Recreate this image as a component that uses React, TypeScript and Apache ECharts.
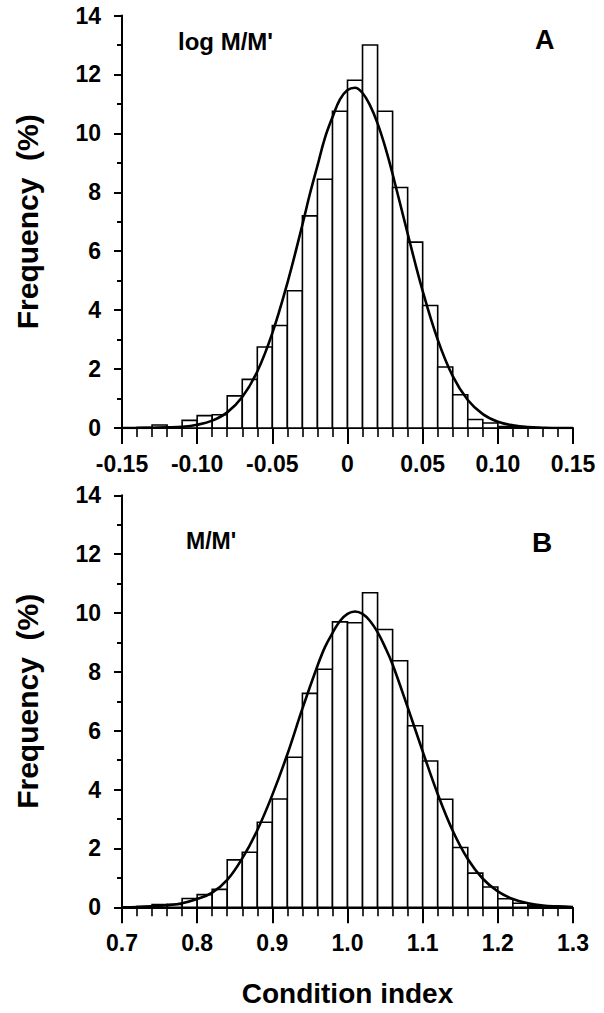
import React, { useEffect, useRef } from "react";
import * as echarts from "echarts";

// ---------- data ----------
const yTickLabels = ["0", "2", "4", "6", "8", "10", "12", "14"];
const xTickLabelsA = ["-0.15", "-0.10", "-0.05", "0", "0.05", "0.10", "0.15"];
const xTickLabelsB = ["0.7", "0.8", "0.9", "1.0", "1.1", "1.2", "1.3"];

// Panel A: log M/M'  (histogram bins, left edges, width 0.01)
const binWidthA = 0.01;
const binLeftA = [-0.14, -0.13, -0.12, -0.11, -0.10, -0.09, -0.08, -0.07, -0.06, -0.05, -0.04, -0.03, -0.02, -0.01, 0.0, 0.01, 0.02, 0.03, 0.04, 0.05, 0.06, 0.07, 0.08, 0.09, 0.10];
const freqA = [0.02, 0.10, 0.03, 0.26, 0.42, 0.45, 1.09, 1.65, 2.75, 3.48, 4.66, 7.2, 8.44, 10.75, 11.8, 13.0, 10.75, 8.16, 6.31, 4.16, 2.07, 1.13, 0.29, 0.17, 0.05];
// fitted curve
const curveXA = [-0.15, -0.14, -0.13, -0.12, -0.11, -0.10, -0.09, -0.08, -0.07, -0.06, -0.05, -0.04, -0.03, -0.025, -0.02, -0.015, -0.01, -0.005, 0.0, 0.005, 0.01, 0.015, 0.02, 0.025, 0.03, 0.04, 0.05, 0.06, 0.07, 0.08, 0.09, 0.10, 0.11, 0.12, 0.13, 0.14, 0.15];
const curveYA = [0.0, 0.0, 0.01, 0.02, 0.04, 0.11, 0.25, 0.53, 1.05, 1.92, 3.22, 4.92, 6.9, 7.95, 8.9, 9.85, 10.55, 11.15, 11.47, 11.55, 11.37, 10.95, 10.34, 9.55, 8.62, 6.6, 4.65, 3.0, 1.76, 0.95, 0.47, 0.21, 0.09, 0.03, 0.01, 0.0, 0.0];

// Panel B: M/M'  (histogram bins, left edges, width 0.02)
const binWidthB = 0.02;
const binLeftB = [0.72, 0.74, 0.76, 0.78, 0.80, 0.82, 0.84, 0.86, 0.88, 0.90, 0.92, 0.94, 0.96, 0.98, 1.00, 1.02, 1.04, 1.06, 1.08, 1.10, 1.12, 1.14, 1.16, 1.18, 1.20, 1.22, 1.24];
const freqB = [0.03, 0.09, 0.10, 0.30, 0.43, 0.61, 1.61, 1.87, 2.89, 3.68, 5.10, 7.27, 8.09, 9.70, 9.67, 10.69, 9.44, 8.38, 6.17, 4.97, 3.67, 2.03, 1.16, 0.69, 0.29, 0.14, 0.05];
const curveXB = [0.70, 0.72, 0.74, 0.76, 0.78, 0.80, 0.82, 0.84, 0.86, 0.88, 0.90, 0.92, 0.94, 0.96, 0.97, 0.98, 0.99, 1.00, 1.01, 1.02, 1.03, 1.04, 1.05, 1.06, 1.08, 1.10, 1.12, 1.14, 1.16, 1.18, 1.20, 1.22, 1.24, 1.26, 1.28, 1.30];
const curveYB = [0.0, 0.01, 0.03, 0.07, 0.14, 0.28, 0.5, 0.93, 1.66, 2.62, 3.82, 5.2, 6.75, 8.2, 8.84, 9.32, 9.73, 9.97, 10.05, 9.97, 9.73, 9.35, 8.84, 8.25, 6.8, 5.3, 3.85, 2.6, 1.64, 0.97, 0.54, 0.28, 0.14, 0.06, 0.03, 0.01];

const FONT = "'Liberation Sans', Arial, Helvetica, sans-serif";

function xAxisDef(grid: number, min: number, max: number, interval: number, labels: string[], name?: string) {
  return {
    type: "value",
    gridIndex: grid,
    min,
    max,
    interval,
    name: name || "",
    nameLocation: "middle",
    nameGap: 72,
    nameTextStyle: { fontFamily: FONT, fontWeight: "bold", fontSize: 28, color: "#000" },
    axisLine: { show: true, onZero: false, lineStyle: { color: "#000", width: 2 } },
    axisTick: { show: true, length: 16, lineStyle: { color: "#000", width: 2 } },
    minorTick: { show: true, splitNumber: 5, length: 9, lineStyle: { color: "#000", width: 1.6 } },
    splitLine: { show: false },
    minorSplitLine: { show: false },
    axisLabel: {
      fontFamily: FONT,
      fontWeight: "bold",
      fontSize: 23,
      color: "#000",
      margin: 24,
      formatter: (v: number) => labels[Math.round((v - min) / interval)] ?? "",
    },
  };
}

function yAxisDef(grid: number) {
  return {
    type: "value",
    gridIndex: grid,
    min: 0,
    max: 14,
    interval: 2,
    name: "Frequency  (%)",
    nameLocation: "middle",
    nameGap: 80,
    nameTextStyle: { fontFamily: FONT, fontWeight: "bold", fontSize: 30, color: "#000" },
    axisLine: { show: true, onZero: false, lineStyle: { color: "#000", width: 2 } },
    axisTick: { show: true, length: 8, lineStyle: { color: "#000", width: 2 } },
    minorTick: { show: true, splitNumber: 2, length: 5, lineStyle: { color: "#000", width: 2 } },
    splitLine: { show: false },
    minorSplitLine: { show: false },
    axisLabel: {
      fontFamily: FONT,
      fontWeight: "bold",
      fontSize: 23,
      color: "#000",
      margin: 21,
      formatter: (v: number) => yTickLabels[Math.round(v / 2)] ?? "",
    },
  };
}

const renderBar = (params: any, api: any) => {
  const x0 = api.value(0);
  const x1 = api.value(1);
  const h = api.value(2);
  const a = api.coord([x0, h]);
  const b = api.coord([x1, 0]);
  return {
    type: "rect",
    shape: { x: a[0], y: a[1], width: b[0] - a[0], height: b[1] - a[1] },
    style: { fill: "#fff", stroke: "#000", lineWidth: 1.6 },
  };
};

export default function App() {
  const ref = useRef<HTMLDivElement>(null);
  useEffect(() => {
    if (!ref.current) return;
    const chart = echarts.init(ref.current, null, { renderer: "svg" });
    const option: any = {
      animation: false,
      backgroundColor: "#fff",
      grid: [
        { left: 122, top: 15.5, width: 451, height: 412.5 },
        { left: 122, top: 495.3, width: 451, height: 412 },
      ],
      xAxis: [
        xAxisDef(0, -0.15, 0.15, 0.05, xTickLabelsA),
        xAxisDef(1, 0.7, 1.3, 0.1, xTickLabelsB, "Condition index"),
      ],
      yAxis: [yAxisDef(0), yAxisDef(1)],
      series: [
        {
          type: "custom",
          xAxisIndex: 0,
          yAxisIndex: 0,
          renderItem: renderBar,
          encode: { x: [0, 1], y: 2 },
          data: binLeftA.map((x, i) => [x, x + binWidthA, freqA[i]]),
          z: 2,
        },
        {
          type: "line",
          xAxisIndex: 0,
          yAxisIndex: 0,
          smooth: 0.4,
          showSymbol: false,
          lineStyle: { color: "#000", width: 2.6 },
          data: curveXA.map((x, i) => [x, curveYA[i]]),
          z: 3,
        },
        {
          type: "custom",
          xAxisIndex: 1,
          yAxisIndex: 1,
          renderItem: renderBar,
          encode: { x: [0, 1], y: 2 },
          data: binLeftB.map((x, i) => [x, x + binWidthB, freqB[i]]),
          z: 2,
        },
        {
          type: "line",
          xAxisIndex: 1,
          yAxisIndex: 1,
          smooth: 0.4,
          showSymbol: false,
          lineStyle: { color: "#000", width: 2.6 },
          data: curveXB.map((x, i) => [x, curveYB[i]]),
          z: 3,
        },
      ],
      graphic: [
        { type: "text", left: 178, top: 29, style: { text: "log M/M'", font: `bold 24px ${FONT}`, fill: "#000" } },
        { type: "text", left: 535, top: 26, style: { text: "A", font: `bold 27px ${FONT}`, fill: "#000" } },
        { type: "text", left: 186, top: 529, style: { text: "M/M'", font: `bold 23px ${FONT}`, fill: "#000" } },
        { type: "text", left: 532, top: 528, style: { text: "B", font: `bold 28px ${FONT}`, fill: "#000" } },
      ],
    };
    chart.setOption(option);
    return () => chart.dispose();
  }, []);
  return (
    <div
      ref={ref}
      style={{ position: "absolute", left: 0, top: 0, width: 604, height: 1013, background: "#fff" }}
    />
  );
}
